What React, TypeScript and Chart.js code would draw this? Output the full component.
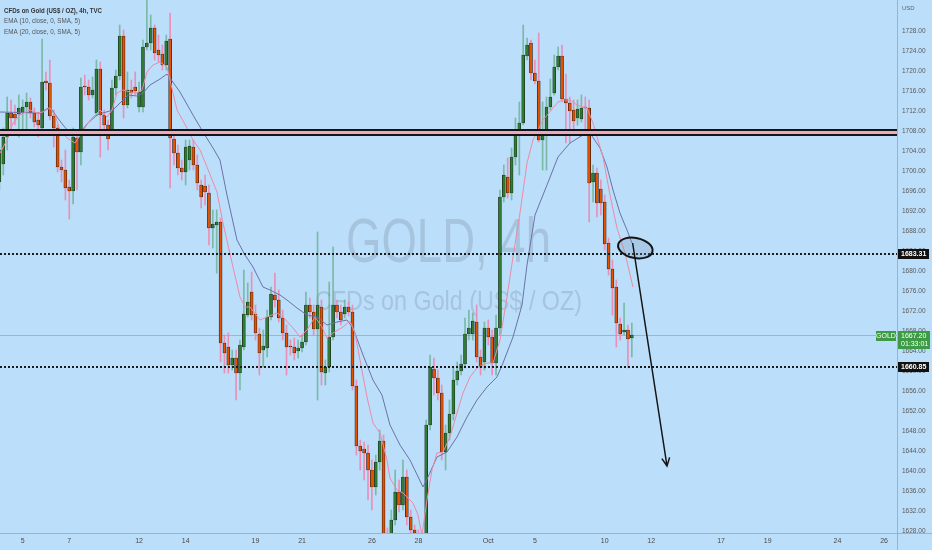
import React, { useEffect, useRef } from 'react';
import { Chart, registerables } from 'chart.js';

Chart.register(...registerables);

// ---------- data (4h candles, index 0 = first bar of Sep 5) ----------
const FIRST_INDEX = -6;

const openPrices = [
  1697.8, 1701.4, 1706.8, 1711.6, 1711.4, 1711.4, 1711.6, 1712.8, 1713.8, 1711.6,
  1710.2, 1708.6, 1718.0, 1717.6, 1711.0, 1708.6, 1700.8, 1700.2, 1696.8, 1696.0,
  1706.6, 1703.8, 1717.0, 1716.8, 1715.2, 1711.6, 1720.4, 1711.2, 1709.2, 1707.6,
  1716.6, 1719.0, 1727.0, 1713.2, 1716.2, 1716.8, 1712.8, 1712.8, 1724.8, 1725.6,
  1728.6, 1724.2, 1723.4, 1721.2, 1726.4, 1706.4, 1703.6, 1700.6, 1699.8, 1702.2,
  1704.8, 1701.2, 1697.2, 1697.0, 1695.6, 1688.6, 1689.2, 1689.8, 1665.6, 1664.8,
  1661.2, 1662.6, 1659.6, 1664.8, 1671.2, 1675.8, 1671.4, 1667.4, 1664.2, 1664.6,
  1670.8, 1675.2, 1674.2, 1670.6, 1667.6, 1665.0, 1664.8, 1664.0, 1664.6, 1665.8,
  1673.2, 1671.8, 1668.4, 1672.8, 1659.6, 1660.8, 1666.8, 1673.2, 1671.8, 1671.4,
  1672.8, 1671.8, 1657.0, 1645.0, 1644.4, 1643.6, 1640.2, 1636.8, 1641.8, 1646.0,
  1626.2, 1626.2, 1630.2, 1635.8, 1633.2, 1638.8, 1630.8, 1628.2, 1627.2, 1622.2,
  1624.2, 1649.2, 1660.4, 1658.6, 1655.6, 1643.8, 1647.6, 1651.4, 1658.2, 1660.0,
  1661.4, 1667.4, 1667.4, 1669.8, 1662.8, 1661.8, 1668.6, 1666.8, 1661.6, 1668.6,
  1694.8, 1698.8, 1695.6, 1702.8, 1707.8, 1709.6, 1723.0, 1725.6, 1719.6, 1718.0,
  1706.2, 1708.2, 1712.8, 1715.6, 1720.8, 1723.0, 1714.4, 1713.6, 1712.2, 1710.6,
  1710.4, 1712.8, 1712.6, 1697.8, 1699.6, 1696.4, 1693.8, 1685.6, 1680.4, 1676.8,
  1669.4, 1667.8, 1668.2, 1666.6,
];

const highPrices = [
  1705.0, 1708.6, 1714.8, 1714.2, 1713.2, 1715.2, 1714.2, 1715.6, 1714.6, 1712.6,
  1711.6, 1726.4, 1719.8, 1722.2, 1712.2, 1709.2, 1702.2, 1704.2, 1698.2, 1708.6,
  1707.6, 1718.6, 1719.2, 1718.2, 1718.8, 1722.2, 1721.8, 1712.2, 1710.2, 1718.2,
  1720.2, 1729.2, 1728.2, 1719.8, 1718.2, 1719.8, 1717.8, 1726.2, 1736.2, 1731.2,
  1729.2, 1727.2, 1725.2, 1727.2, 1731.6, 1707.6, 1705.2, 1702.2, 1706.2, 1706.2,
  1706.2, 1703.2, 1698.2, 1699.2, 1697.2, 1692.2, 1692.2, 1690.6, 1667.2, 1667.6,
  1664.2, 1664.2, 1666.2, 1680.2, 1677.6, 1679.8, 1673.2, 1668.6, 1668.2, 1672.2,
  1676.8, 1679.6, 1676.2, 1672.2, 1669.2, 1666.2, 1666.6, 1666.2, 1667.2, 1675.8,
  1674.6, 1673.2, 1687.8, 1674.2, 1662.2, 1677.8, 1684.8, 1674.2, 1673.2, 1674.2,
  1673.8, 1673.2, 1658.2, 1646.2, 1645.8, 1645.2, 1642.2, 1643.2, 1648.2, 1647.2,
  1628.6, 1632.2, 1640.2, 1638.2, 1642.2, 1640.2, 1632.2, 1629.2, 1628.2, 1626.2,
  1650.2, 1663.2, 1662.6, 1660.2, 1657.2, 1649.2, 1654.2, 1660.8, 1661.8, 1663.2,
  1670.6, 1672.2, 1671.6, 1673.2, 1664.2, 1669.8, 1670.2, 1668.2, 1671.2, 1696.2,
  1701.2, 1702.6, 1704.6, 1710.6, 1713.8, 1729.2, 1726.6, 1726.2, 1722.2, 1727.6,
  1713.8, 1714.8, 1718.4, 1723.2, 1724.8, 1725.2, 1719.4, 1714.8, 1714.2, 1714.2,
  1715.2, 1714.8, 1714.2, 1701.2, 1700.6, 1698.2, 1695.2, 1686.6, 1682.2, 1678.2,
  1670.6, 1673.6, 1669.2, 1669.6,
];

const lowPrices = [
  1696.2, 1699.2, 1704.2, 1708.2, 1709.2, 1706.8, 1707.6, 1707.2, 1710.6, 1708.8,
  1706.8, 1708.0, 1716.2, 1710.2, 1704.8, 1699.8, 1697.8, 1694.2, 1690.4, 1693.4,
  1696.2, 1701.2, 1715.2, 1714.2, 1714.6, 1711.0, 1702.8, 1708.2, 1704.2, 1707.2,
  1715.2, 1718.2, 1710.6, 1712.6, 1714.6, 1715.2, 1711.8, 1711.8, 1724.2, 1724.2,
  1722.2, 1721.8, 1720.2, 1720.2, 1696.6, 1701.2, 1699.2, 1698.2, 1697.2, 1700.2,
  1700.2, 1696.2, 1692.6, 1693.2, 1685.2, 1684.6, 1679.6, 1661.8, 1659.6, 1659.6,
  1660.2, 1654.2, 1656.2, 1664.2, 1670.8, 1670.2, 1666.2, 1659.2, 1660.8, 1662.8,
  1670.2, 1672.8, 1669.8, 1666.2, 1659.2, 1663.2, 1662.2, 1662.6, 1663.8, 1665.2,
  1670.6, 1667.2, 1654.2, 1657.2, 1657.2, 1659.8, 1666.2, 1670.6, 1669.2, 1670.6,
  1671.0, 1656.2, 1643.2, 1640.2, 1638.2, 1634.2, 1632.2, 1635.2, 1640.2, 1622.2,
  1618.2, 1622.2, 1629.2, 1631.8, 1632.2, 1629.2, 1626.2, 1625.2, 1616.2, 1615.2,
  1622.2, 1648.2, 1655.2, 1654.2, 1642.2, 1640.2, 1646.2, 1650.2, 1657.2, 1659.2,
  1660.6, 1666.2, 1666.2, 1661.8, 1659.2, 1660.2, 1665.2, 1659.2, 1659.2, 1667.2,
  1693.8, 1694.6, 1694.2, 1701.2, 1699.2, 1709.2, 1722.2, 1718.2, 1717.4, 1705.8,
  1700.2, 1700.2, 1712.2, 1715.2, 1720.2, 1713.8, 1705.6, 1705.6, 1708.2, 1709.2,
  1709.8, 1707.8, 1689.8, 1693.8, 1690.8, 1691.2, 1684.2, 1679.2, 1671.2, 1664.8,
  1666.2, 1667.2, 1660.6, 1662.8,
];

const closePrices = [
  1704.2, 1706.8, 1711.6, 1710.6, 1710.6, 1712.6, 1712.8, 1713.8, 1711.6, 1709.8,
  1709.2, 1717.8, 1717.6, 1711.0, 1708.6, 1700.8, 1700.2, 1696.6, 1696.0, 1706.8,
  1703.8, 1716.8, 1716.8, 1715.2, 1716.2, 1720.4, 1711.2, 1709.2, 1706.4, 1716.6,
  1719.0, 1727.0, 1713.2, 1716.2, 1715.6, 1716.0, 1715.8, 1724.8, 1725.6, 1728.6,
  1723.6, 1723.2, 1721.2, 1726.0, 1706.6, 1703.6, 1700.6, 1699.8, 1704.8, 1705.0,
  1701.2, 1697.6, 1694.8, 1695.8, 1688.6, 1689.4, 1689.8, 1665.6, 1663.6, 1661.2,
  1662.6, 1659.6, 1665.2, 1671.4, 1673.8, 1671.2, 1667.6, 1663.6, 1665.0, 1670.8,
  1675.4, 1674.2, 1670.6, 1667.6, 1664.8, 1664.8, 1663.6, 1664.6, 1665.8, 1673.2,
  1671.8, 1668.4, 1673.2, 1659.8, 1660.8, 1666.8, 1673.2, 1671.8, 1670.2, 1672.8,
  1671.8, 1657.0, 1645.0, 1644.0, 1643.6, 1640.2, 1636.8, 1641.8, 1646.0, 1626.2,
  1625.2, 1630.2, 1635.8, 1633.2, 1638.8, 1630.8, 1628.2, 1627.6, 1622.2, 1624.2,
  1649.2, 1660.8, 1658.6, 1655.6, 1643.8, 1647.6, 1651.4, 1658.2, 1660.0, 1661.4,
  1667.4, 1668.6, 1670.0, 1662.8, 1660.8, 1668.6, 1666.8, 1661.6, 1668.6, 1694.8,
  1699.2, 1695.6, 1702.8, 1708.0, 1709.6, 1723.2, 1725.2, 1719.6, 1718.0, 1706.2,
  1708.2, 1712.8, 1714.8, 1720.8, 1723.0, 1714.4, 1713.6, 1712.0, 1710.0, 1712.4,
  1712.6, 1712.6, 1697.6, 1699.6, 1693.6, 1693.6, 1685.4, 1680.4, 1676.6, 1669.6,
  1667.4, 1668.2, 1666.4, 1667.2,
];

// EMA (10): bar index / price
const ema10Index = [
  -5.85, -4.05, -2.5, -0.7, 1.88, 3.69, 5.23, 7.04, 8.32, 9.61, 11.42, 13.48, 15.28, 16.83, 18.12,
  19.92, 21.73, 23.02, 24.3, 25.85, 27.66, 29.46, 30.75, 32.04, 33.58, 35.39, 37.19, 37.96, 39.77,
  42.35, 43.89, 45.7, 47.5, 50.08, 51.62, 54.2, 56.01, 57.29, 58.58, 61.16, 62.96, 65.54, 67.09,
  69.66, 71.47, 73.27, 75.33, 77.14, 78.43, 79.97, 82.55, 84.36, 85.64, 86.93, 88.74, 90.28, 92.09,
  93.89, 94.66, 96.47, 98.02, 100.59, 101.88, 102.91, 104.2, 105.49, 106.78, 108.33, 110.13, 111.93,
  113.48, 115.28, 117.09, 119.67, 121.21, 123.02, 124.82, 126.37, 128.17, 129.98, 131.52, 132.81,
  134.1, 136.68, 137.97, 139.26, 141.06, 142.87, 145.44, 146.99, 149.56, 151.37, 153.17, 155.23, 157.29,
];
const ema10Value = [
  1703.6, 1706.2, 1709.6, 1711.2, 1712.2, 1711.6, 1711.8, 1712.6, 1711.2, 1708.2, 1706.6, 1705.6, 1707.6, 1709.6, 1710.8,
  1712.2, 1710.8, 1712.2, 1715.6, 1716.2, 1715.8, 1715.6, 1716.2, 1719.8, 1721.2, 1721.8, 1720.8, 1718.2, 1712.2,
  1708.6, 1706.2, 1704.2, 1700.8, 1695.8, 1689.6, 1680.8, 1674.8, 1672.8, 1672.8, 1670.2, 1670.8, 1671.6, 1670.8,
  1668.6, 1666.8, 1668.2, 1670.8, 1668.8, 1666.6, 1667.6, 1668.8, 1670.0, 1667.6, 1662.2, 1654.8, 1649.6, 1647.6,
  1642.2, 1638.6, 1636.2, 1635.6, 1633.6, 1631.2, 1627.2, 1634.2, 1640.2, 1643.6, 1643.8, 1646.8, 1651.6,
  1655.6, 1658.8, 1660.6, 1661.6, 1661.6, 1666.2, 1674.8, 1682.8, 1691.6, 1701.6, 1706.2, 1708.2,
  1710.2, 1712.6, 1713.8, 1714.2, 1714.2, 1713.2, 1712.6, 1709.6, 1702.8, 1695.2, 1688.6, 1683.6, 1676.8,
];

// EMA (20): bar index / price
const ema20Index = [
  -5.85, 4.46, 7.04, 8.84, 10.39, 12.19, 14.0, 15.28, 16.83, 19.15, 20.7, 23.27, 25.08, 27.14, 29.45,
  31.0, 32.81, 35.39, 37.19, 37.96, 40.54, 43.89, 46.47, 49.05, 50.85, 52.65, 55.23, 57.29, 59.36,
  61.93, 63.74, 66.31, 68.12, 70.7, 73.27, 75.85, 78.43, 81.01, 83.58, 85.13, 87.71, 90.28, 92.6,
  94.66, 97.24, 99.82, 103.17, 104.46, 106.78, 109.36, 111.93, 114.51, 117.09, 119.67, 122.24, 123.79,
  126.37, 128.69, 129.98, 132.04, 135.13, 137.97, 141.06, 144.41, 146.21, 148.79, 150.59, 152.14,
  153.94, 155.75, 157.04,
];
const ema20Value = [
  1711.8, 1711.6, 1712.8, 1710.8, 1709.2, 1707.6, 1707.2, 1708.2, 1709.6, 1711.2, 1711.6, 1712.2, 1713.6, 1715.2, 1715.0,
  1715.6, 1717.2, 1718.4, 1719.4, 1718.6, 1715.8, 1711.2, 1707.8, 1704.6, 1702.2, 1695.2, 1686.2, 1683.2, 1680.8,
  1676.8, 1676.2, 1675.2, 1674.2, 1672.6, 1671.2, 1670.8, 1669.2, 1669.8, 1670.2, 1668.6, 1663.2, 1658.2, 1655.2,
  1649.2, 1645.2, 1642.2, 1636.8, 1638.8, 1642.8, 1643.8, 1646.8, 1650.8, 1654.2, 1656.8, 1658.8, 1661.6,
  1666.8, 1673.2, 1681.2, 1691.2, 1697.2, 1702.8, 1705.6, 1707.2, 1707.6, 1704.6, 1700.8, 1696.2,
  1691.6, 1688.2, 1685.6,
];

// time axis labels (bar index of the first bar of that day)
const dateTickIndex = [0, 12, 30, 42, 60, 72, 90, 102, 120, 132, 150, 162, 180, 192, 210, 222];
const dateTickLabel = ['5', '7', '12', '14', '19', '21', '26', '28', 'Oct', '5', '10', '12', '17', '19', '24', '26'];

// price axis labels
const priceTicks = [1628, 1632, 1636, 1640, 1644, 1648, 1652, 1656, 1660, 1664, 1668, 1672, 1676, 1680,
  1684, 1688, 1692, 1696, 1700, 1704, 1708, 1712, 1716, 1720, 1724, 1728];

// visible window
const viewFirstIndex = -5.85;
const viewLastIndex = 225.34;
const viewMinPrice = 1627.6;
const viewMaxPrice = 1734.2;

// drawings
const zoneTop = 1708.2;
const zoneBottom = 1707.2;
const dottedLevels = [1683.31, 1660.85];
const lastPrice = 1667.2;
const countdownText = '01:33:01';
const ellipseCenterIndex = 157.9;
const ellipseCenterPrice = 1684.6;
const arrowFrom = [157.2, 1685.6];
const arrowTo = [166.06, 1641.0];

const BG = '#BBDEFB';
const FONT = '"Liberation Sans", Arial, sans-serif';

function fitText(ctx: CanvasRenderingContext2D, text: string, x: number, baseline: number, font: string, width: number, align: CanvasTextAlign) {
  ctx.save();
  ctx.font = font;
  const w = ctx.measureText(text).width;
  const s = width / w;
  ctx.translate(x, baseline);
  ctx.scale(s, 1);
  ctx.textAlign = align;
  ctx.textBaseline = 'alphabetic';
  ctx.fillText(text, 0, 0);
  ctx.restore();
}

const decorPlugin = {
  id: 'decor',
  beforeDraw(chart: any) {
    const { ctx, width, height } = chart;
    ctx.save();
    ctx.fillStyle = BG;
    ctx.fillRect(0, 0, width, height);
    ctx.restore();
  },
  beforeDatasetsDraw(chart: any) {
    const { ctx, chartArea: a, scales } = chart;
    const cx = (a.left + a.right) / 2;
    ctx.save();
    ctx.fillStyle = 'rgba(95,105,118,0.22)';
    fitText(ctx, 'GOLD, 4h', cx, a.top + 262, `63px ${FONT}`, 205, 'center');
    fitText(ctx, 'CFDs on Gold (US$ / OZ)', cx, a.top + 310, `28px ${FONT}`, 267, 'center');
    const py = Math.round(scales.y.getPixelForValue(lastPrice)) + 0.5;
    ctx.strokeStyle = 'rgba(90,150,120,0.45)';
    ctx.lineWidth = 1;
    ctx.beginPath();
    ctx.moveTo(a.left, py);
    ctx.lineTo(a.right, py);
    ctx.stroke();
    ctx.restore();
  },
  afterDatasetsDraw(chart: any) {
    const { ctx, chartArea: a, scales } = chart;
    const xs = scales.x;
    const ys = scales.y;
    ctx.save();
    ctx.beginPath();
    ctx.rect(a.left, a.top, a.right - a.left, a.bottom - a.top);
    ctx.clip();
    // resistance zone
    const t = Math.round(ys.getPixelForValue(zoneTop));
    const b = Math.round(ys.getPixelForValue(zoneBottom));
    ctx.fillStyle = '#EFA7BE';
    ctx.fillRect(a.left, t, a.right - a.left, b - t);
    ctx.strokeStyle = '#151515';
    ctx.lineWidth = 2;
    ctx.beginPath();
    ctx.moveTo(a.left, t);
    ctx.lineTo(a.right, t);
    ctx.moveTo(a.left, b);
    ctx.lineTo(a.right, b);
    ctx.stroke();
    // dotted levels
    ctx.setLineDash([2, 2]);
    ctx.lineWidth = 2;
    ctx.strokeStyle = '#1a1a1a';
    dottedLevels.forEach((lv) => {
      const y = Math.round(ys.getPixelForValue(lv));
      ctx.beginPath();
      ctx.moveTo(a.left, y);
      ctx.lineTo(a.right, y);
      ctx.stroke();
    });
    ctx.setLineDash([]);
    // ellipse
    const ex = xs.getPixelForValue(ellipseCenterIndex);
    const ey = ys.getPixelForValue(ellipseCenterPrice);
    ctx.beginPath();
    ctx.ellipse(ex, ey, 17.5, 10, 0.2, 0, Math.PI * 2);
    ctx.fillStyle = 'rgba(120,150,180,0.28)';
    ctx.fill();
    ctx.lineWidth = 2;
    ctx.strokeStyle = '#151515';
    ctx.stroke();
    // arrow
    const x1 = xs.getPixelForValue(arrowFrom[0]);
    const y1 = ys.getPixelForValue(arrowFrom[1]);
    const x2 = xs.getPixelForValue(arrowTo[0]);
    const y2 = ys.getPixelForValue(arrowTo[1]);
    ctx.lineWidth = 1.5;
    ctx.beginPath();
    ctx.moveTo(x1, y1);
    ctx.lineTo(x2, y2);
    const ang = Math.atan2(y2 - y1, x2 - x1);
    const hl = 9;
    ctx.moveTo(x2 - hl * Math.cos(ang - 0.45), y2 - hl * Math.sin(ang - 0.45));
    ctx.lineTo(x2, y2);
    ctx.lineTo(x2 - hl * Math.cos(ang + 0.45), y2 - hl * Math.sin(ang + 0.45));
    ctx.stroke();
    ctx.restore();
  },
  afterDraw(chart: any) {
    const { ctx, chartArea: a, scales, width, height } = chart;
    const ys = scales.y;
    ctx.save();
    // axis separators
    ctx.strokeStyle = 'rgba(110,150,185,0.55)';
    ctx.lineWidth = 1;
    ctx.beginPath();
    ctx.moveTo(Math.round(a.right) + 0.5, 0);
    ctx.lineTo(Math.round(a.right) + 0.5, height);
    ctx.moveTo(0, Math.round(a.bottom) + 0.5);
    ctx.lineTo(width, Math.round(a.bottom) + 0.5);
    ctx.stroke();
    // USD
    ctx.fillStyle = '#5a6570';
    ctx.font = `6px ${FONT}`;
    ctx.textBaseline = 'middle';
    ctx.textAlign = 'left';
    ctx.fillText('USD', a.right + 5, 8);
    // level labels
    const ax = Math.round(a.right) + 1;
    dottedLevels.forEach((lv) => {
      const y = Math.round(ys.getPixelForValue(lv));
      ctx.fillStyle = '#111';
      ctx.fillRect(ax, y - 5, 31, 10);
      ctx.fillStyle = '#fff';
      ctx.font = `bold 7px ${FONT}`;
      ctx.textAlign = 'left';
      ctx.textBaseline = 'middle';
      ctx.fillText(lv.toFixed(2), ax + 3, y + 0.5);
    });
    // last price label
    const py = Math.round(ys.getPixelForValue(lastPrice));
    ctx.fillStyle = '#3E9B45';
    ctx.fillRect(ax, py - 4, 32, 18);
    ctx.fillRect(a.right - 21, py - 4, 20, 10);
    ctx.fillStyle = '#fff';
    ctx.font = `7px ${FONT}`;
    ctx.textBaseline = 'middle';
    ctx.textAlign = 'left';
    ctx.fillText(lastPrice.toFixed(2), ax + 3, py + 1.5);
    ctx.fillText(countdownText, ax + 3, py + 9.5);
    ctx.textAlign = 'center';
    ctx.fillText('GOLD', a.right - 11, py + 1.5);
    // legend
    ctx.fillStyle = '#333';
    fitText(ctx, 'CFDs on Gold (US$ / OZ), 4h, TVC', a.left + 4, 12.5, `bold 7px ${FONT}`, 98, 'left');
    ctx.fillStyle = '#555';
    fitText(ctx, 'EMA (10, close, 0, SMA, 5)', a.left + 4, 23, `7px ${FONT}`, 76, 'left');
    fitText(ctx, 'EMA (20, close, 0, SMA, 5)', a.left + 4, 33.5, `7px ${FONT}`, 76, 'left');
    ctx.restore();
  },
};

export default function App() {
  const canvasRef = useRef<HTMLCanvasElement | null>(null);

  useEffect(() => {
    const canvas = canvasRef.current;
    if (!canvas) return;
    const idx = openPrices.map((_, k) => FIRST_INDEX + k);
    const isUp = (k: number) => closePrices[k] >= openPrices[k];

    const upWicks: any[] = [];
    const downWicks: any[] = [];
    const upBodies: any[] = [];
    const downBodies: any[] = [];
    idx.forEach((x, k) => {
      const wick = { x, y: [lowPrices[k], highPrices[k]] };
      const body = { x, y: [Math.min(openPrices[k], closePrices[k]), Math.max(openPrices[k], closePrices[k])] };
      if (isUp(k)) {
        upWicks.push(wick);
        upBodies.push(body);
      } else {
        downWicks.push(wick);
        downBodies.push(body);
      }
    });

    const chart = new Chart(canvas, {
      type: 'bar',
      data: {
        datasets: [
          {
            type: 'line',
            label: 'EMA 10',
            data: ema10Index.map((x, k) => ({ x, y: ema10Value[k] })),
            borderColor: '#EE8AA6',
            borderWidth: 1,
            pointRadius: 0,
            tension: 0,
            fill: false,
            order: 0,
          } as any,
          {
            type: 'line',
            label: 'EMA 20',
            data: ema20Index.map((x, k) => ({ x, y: ema20Value[k] })),
            borderColor: '#6C72A8',
            borderWidth: 1,
            pointRadius: 0,
            tension: 0,
            fill: false,
            order: 0,
          } as any,
          {
            label: 'up wick',
            data: upWicks,
            backgroundColor: 'rgba(60,150,80,0.5)',
            barThickness: 1,
            grouped: false,
            borderWidth: 0,
            order: 3,
          } as any,
          {
            label: 'down wick',
            data: downWicks,
            backgroundColor: 'rgba(240,130,170,0.85)',
            barThickness: 1,
            grouped: false,
            borderWidth: 0,
            order: 3,
          } as any,
          {
            label: 'up body',
            data: upBodies,
            backgroundColor: '#2E7D32',
            borderColor: '#1A2A1C',
            borderWidth: 0.7,
            borderSkipped: false,
            barThickness: 3,
            grouped: false,
            order: 2,
          } as any,
          {
            label: 'down body',
            data: downBodies,
            backgroundColor: '#E65100',
            borderColor: '#2A1A12',
            borderWidth: 0.7,
            borderSkipped: false,
            barThickness: 3,
            grouped: false,
            order: 2,
          } as any,
        ],
      },
      options: {
        animation: false,
        responsive: false,
        maintainAspectRatio: false,
        devicePixelRatio: 1,
        events: [],
        layout: { padding: 0 },
        plugins: { legend: { display: false }, tooltip: { enabled: false } },
        scales: {
          x: {
            type: 'linear',
            min: viewFirstIndex,
            max: viewLastIndex,
            offset: false,
            grid: { display: false, drawTicks: false, offset: false },
            border: { display: false },
            afterBuildTicks: (scale: any) => {
              scale.ticks = dateTickIndex.map((v) => ({ value: v }));
            },
            afterFit: (scale: any) => {
              scale.height = 17;
              scale.paddingLeft = 0;
              scale.paddingRight = 0;
            },
            ticks: {
              autoSkip: false,
              maxRotation: 0,
              padding: 4,
              color: '#4a4a4a',
              font: { family: FONT, size: 7 },
              callback: (value: any) => {
                const k = dateTickIndex.indexOf(Number(value));
                return k >= 0 ? dateTickLabel[k] : '';
              },
            },
          },
          y: {
            type: 'linear',
            position: 'right',
            min: viewMinPrice,
            max: viewMaxPrice,
            grid: { display: false, drawTicks: false },
            border: { display: false },
            afterBuildTicks: (scale: any) => {
              scale.ticks = priceTicks.map((v) => ({ value: v }));
            },
            afterFit: (scale: any) => {
              scale.width = 35;
              scale.paddingTop = 0;
              scale.paddingBottom = 0;
            },
            ticks: {
              autoSkip: false,
              padding: 5,
              color: '#5a5a5a',
              font: { family: FONT, size: 6.5 },
              callback: (value: any) => Number(value).toFixed(2),
            },
          },
        },
      } as any,
      plugins: [decorPlugin],
    });
    return () => chart.destroy();
  }, []);

  return (
    <div style={{ position: 'fixed', left: 0, top: 0, width: 932, height: 550 }}>
      <canvas ref={canvasRef} width={932} height={550} style={{ display: 'block', width: 932, height: 550 }} />
    </div>
  );
}
